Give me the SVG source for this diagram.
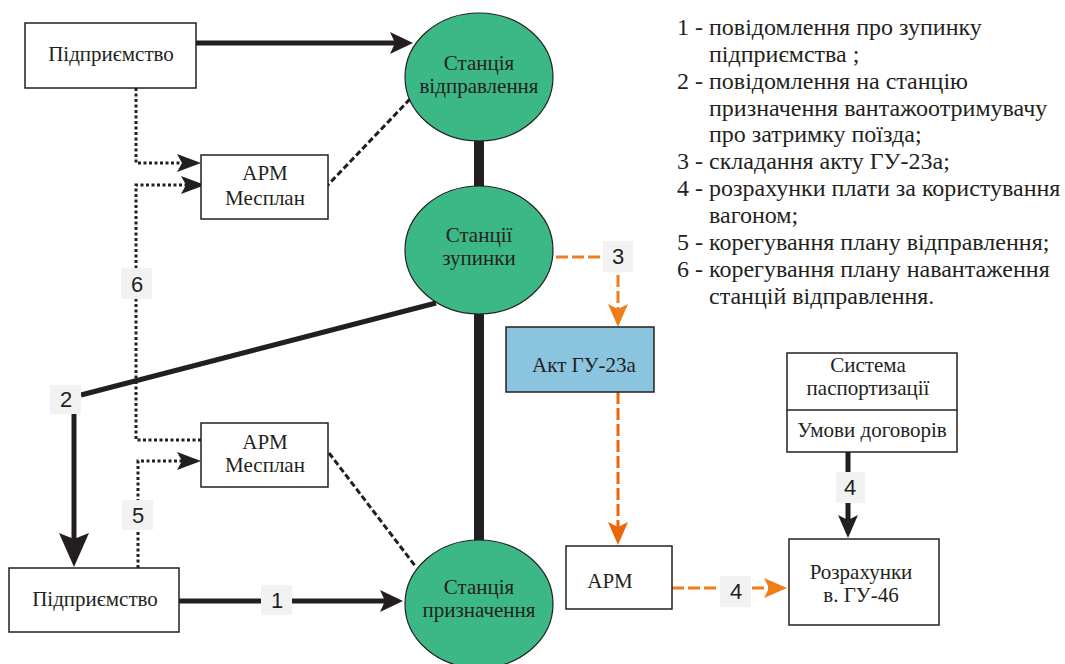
<svg xmlns="http://www.w3.org/2000/svg" width="1065" height="664" viewBox="0 0 1065 664">
  <style>
    .box { fill: #ffffff; stroke: #231f20; stroke-width: 1.5; }
    .st { fill: #3cb886; stroke: #231f20; stroke-width: 1.2; }
    .act { fill: #8ac4de; stroke: #231f20; stroke-width: 1.5; }
    .t { font-family: 'Liberation Serif', 'Times New Roman', serif; font-size: 21px; fill: #231f20; text-anchor: middle; }
    .lg { font-family: 'Liberation Serif', 'Times New Roman', serif; font-size: 24px; fill: #231f20; }
    .num { font-family: 'Liberation Sans', Arial, sans-serif; font-size: 22px; fill: #231f20; text-anchor: middle; }
    .nb { fill: #f2f2f2; }
    .solid { fill: none; stroke: #231f20; stroke-width: 5; }
    .bar { fill: none; stroke: #231f20; stroke-width: 10; }
    .dot { fill: none; stroke: #231f20; stroke-width: 3; stroke-dasharray: 3 2.5; }
    .dash { fill: none; stroke: #231f20; stroke-width: 3; stroke-dasharray: 6 3; }
    .or { fill: none; stroke: #f07c1a; stroke-width: 3; stroke-dasharray: 12 4; }
    .or2 { fill: none; stroke: #ec6608; stroke-width: 3; stroke-dasharray: 12 4; }
  </style>
  <defs>
    <marker id="ah" markerUnits="userSpaceOnUse" markerWidth="24" markerHeight="24" refX="5" refY="12" orient="auto">
      <path d="M0,1 L23,12 L0,23 L5,12 z" fill="#231f20"/>
    </marker>
    <marker id="ahBig" markerUnits="userSpaceOnUse" markerWidth="36" markerHeight="32" refX="6" refY="16" orient="auto">
      <path d="M0,1 L34,16 L0,31 L6,16 z" fill="#231f20"/>
    </marker>
    <marker id="ahS" markerUnits="userSpaceOnUse" markerWidth="24" markerHeight="22" refX="5" refY="11" orient="auto">
      <path d="M0,1 L23,11 L0,21 L5,11 z" fill="#231f20"/>
    </marker>
    <marker id="ahD" markerUnits="userSpaceOnUse" markerWidth="25" markerHeight="20" refX="5" refY="10" orient="auto">
      <path d="M0,1 L24,10 L0,19 L5,10 z" fill="#231f20"/>
    </marker>
    <marker id="ahO" markerUnits="userSpaceOnUse" markerWidth="24" markerHeight="22" refX="5" refY="11" orient="auto">
      <path d="M0,1 L23,11 L0,21 L5,11 z" fill="#f07c1a"/>
    </marker>
    <marker id="ahO2" markerUnits="userSpaceOnUse" markerWidth="24" markerHeight="22" refX="5" refY="11" orient="auto">
      <path d="M0,1 L23,11 L0,21 L5,11 z" fill="#ec6608"/>
    </marker>
  </defs>

  <!-- connectors -->
  <g id="connectors">
    <!-- station chain -->
    <line class="bar" x1="479" y1="137" x2="479" y2="189"/>
    <line class="bar" x1="479" y1="312" x2="479" y2="545"/>
    <!-- enterprise to departure station -->
    <line class="solid" x1="196" y1="43" x2="395" y2="43" marker-end="url(#ah)"/>
    <!-- 1: enterprise to destination station -->
    <line class="solid" x1="179" y1="601" x2="385" y2="601" marker-end="url(#ah)"/>
    <!-- 2: stop station to enterprise -->
    <polyline class="solid" points="436,303 81,395"/>
    <line class="solid" x1="74" y1="413" x2="74" y2="539" marker-end="url(#ahBig)"/>
    <!-- dotted planning links -->
    <path class="dot" d="M136,88 V163 H182" marker-end="url(#ahD)"/>
    <path class="dot" d="M201,440 H136 V185 H186" marker-end="url(#ahD)"/>
    <path class="dot" d="M138,568 V461 H182" marker-end="url(#ahD)"/>
    <!-- dashed workstation links -->
    <line class="dash" x1="325" y1="188" x2="411" y2="98"/>
    <line class="dash" x1="329" y1="453" x2="416" y2="567"/>
    <!-- 3: act drafting -->
    <path class="or" d="M556,257 H618 V309" marker-end="url(#ahO)"/>
    <line class="or2" x1="618" y1="392" x2="618" y2="527" marker-end="url(#ahO2)"/>
    <!-- 4: charges -->
    <line class="or" x1="672" y1="588" x2="769" y2="588" marker-end="url(#ahO)"/>
    <line class="solid" x1="848" y1="452" x2="848" y2="520" marker-end="url(#ahS)"/>

    <!-- number tags -->
    <rect class="nb" x="121" y="268" width="31" height="31"/>
    <text class="num" x="137" y="292">6</text>
    <rect class="nb" x="122" y="500" width="31" height="30"/>
    <text class="num" x="138" y="523">5</text>
    <rect class="nb" x="50" y="385" width="31" height="29"/>
    <text class="num" x="66" y="407">2</text>
    <rect class="nb" x="261" y="585" width="31" height="30"/>
    <text class="num" x="277" y="608">1</text>
    <rect class="nb" x="603" y="241" width="30" height="31"/>
    <text class="num" x="618" y="264">3</text>
    <rect class="nb" x="720" y="576" width="31" height="31"/>
    <text class="num" x="736" y="599">4</text>
    <rect class="nb" x="836" y="472" width="29" height="31"/>
    <text class="num" x="850" y="495">4</text>
  </g>

  <!-- nodes -->
  <g id="enterprise-top">
    <rect class="box" x="25" y="23" width="171" height="65"/>
    <text class="t" x="111" y="61">Підприємство</text>
  </g>
  <g id="station-departure">
    <ellipse class="st" cx="479" cy="77" rx="74" ry="64"/>
    <text class="t" x="479" y="70">Станція</text>
    <text class="t" x="479" y="93">відправлення</text>
  </g>
  <g id="arm-mesplan-top">
    <rect class="box" x="201" y="155" width="127" height="64"/>
    <text class="t" x="265" y="180">АРМ</text>
    <text class="t" x="265" y="205">Месплан</text>
  </g>
  <g id="station-stop">
    <ellipse class="st" cx="479" cy="250" rx="74" ry="64"/>
    <text class="t" x="479" y="242">Станції</text>
    <text class="t" x="479" y="265">зупинки</text>
  </g>
  <g id="act-gu23a">
    <rect class="act" x="506" y="327" width="148" height="65"/>
    <text class="t" x="584" y="372">Акт ГУ-23а</text>
  </g>
  <g id="arm-mesplan-bottom">
    <rect class="box" x="201" y="423" width="127" height="64"/>
    <text class="t" x="265" y="449">АРМ</text>
    <text class="t" x="265" y="472">Месплан</text>
  </g>
  <g id="enterprise-bottom">
    <rect class="box" x="9" y="568" width="170" height="64"/>
    <text class="t" x="95" y="606">Підприємство</text>
  </g>
  <g id="station-destination">
    <ellipse class="st" cx="479" cy="604" rx="74" ry="64"/>
    <text class="t" x="479" y="594">Станція</text>
    <text class="t" x="479" y="617">призначення</text>
  </g>
  <g id="arm">
    <rect class="box" x="566" y="546" width="106" height="63"/>
    <text class="t" x="610" y="588">АРМ</text>
  </g>
  <g id="passport-system">
    <rect class="box" x="787" y="353" width="170" height="99"/>
    <line x1="787" y1="410" x2="957" y2="410" stroke="#231f20" stroke-width="1.5"/>
    <text class="t" x="868" y="372">Система</text>
    <text class="t" x="868" y="395">паспортизації</text>
    <text class="t" x="872" y="437">Умови договорів</text>
  </g>
  <g id="calc-gu46">
    <rect class="box" x="789" y="539" width="150" height="86"/>
    <text class="t" x="861" y="579">Розрахунки</text>
    <text class="t" x="861" y="602">в. ГУ-46</text>
  </g>

  <!-- legend -->
  <g id="legend">
    <text class="lg" x="677" y="35">1 - повідомлення про зупинку</text>
    <text class="lg" x="709" y="62">підприємства ;</text>
    <text class="lg" x="677" y="89">2 - повідомлення на станцію</text>
    <text class="lg" x="709" y="116">призначення вантажоотримувачу</text>
    <text class="lg" x="709" y="142">про затримку поїзда;</text>
    <text class="lg" x="677" y="169">3 - складання акту ГУ-23а;</text>
    <text class="lg" x="677" y="196">4 - розрахунки плати за користування</text>
    <text class="lg" x="709" y="223">вагоном;</text>
    <text class="lg" x="677" y="250">5 - корегування плану відправлення;</text>
    <text class="lg" x="677" y="277">6 - корегування плану навантаження</text>
    <text class="lg" x="709" y="304">станцій відправлення.</text>
  </g>
</svg>
